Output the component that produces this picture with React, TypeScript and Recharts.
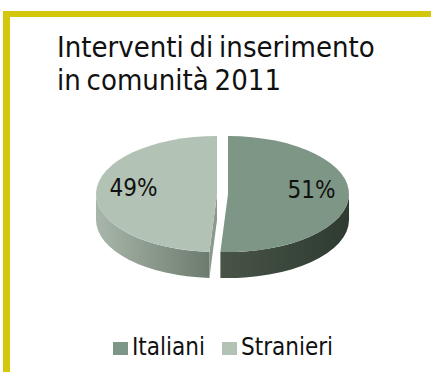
import React from "react";
import { PieChart, Pie, Legend } from "recharts";

// Share of placement interventions in 2011, by nationality
const categories = ["Italiani", "Stranieri"];
const shares = [51, 49];
const fills = ["#7e9685", "#b2c2b5"];
const wallFrom = ["#475446", "#a9b7aa"];
const wallTo = ["#2f3b31", "#6d7b6e"];
const cutFill = ["#5a6a5e", "#8b9a8d"];
const titleLines = ["Interventi di inserimento", "in comunità 2011"];

const rows = categories.map((name, i) => ({ name, value: shares[i], fill: fills[i], index: i }));

const FONT = "'DejaVu Sans Condensed', 'DejaVu Sans', sans-serif";
const TILT = 58 / 121;
const DEPTH = 26;
const EXPLODE = 5.5;

const toRad = (d: number) => (d * Math.PI) / 180;

// Tilted slice: an elliptical top face over a shaded wall and any visible cut face.
function TiltedSlice(props: any) {
  const { cx, cy, outerRadius, startAngle, endAngle, fill, index } = props;
  const a1 = 90 - startAngle;
  const a2 = 90 - endAngle;
  const mid = toRad((a1 + a2) / 2);
  const rx = outerRadius;
  const ry = outerRadius * TILT;
  const ox = cx + EXPLODE * Math.sin(mid);
  const oy = cy;
  const pt = (a: number, d = 0) => [ox + rx * Math.sin(toRad(a)), oy - ry * Math.cos(toRad(a)) + d];
  const arc = (from: number, to: number, d = 0) => {
    const [x, y] = pt(to, d);
    const large = Math.abs(to - from) > 180 ? 1 : 0;
    const sweep = to > from ? 1 : 0;
    return `A ${rx} ${ry} 0 ${large} ${sweep} ${x} ${y}`;
  };
  const p1 = pt(a1);
  const top = `M ${ox} ${oy} L ${p1[0]} ${p1[1]} ${arc(a1, a2)} Z`;

  const w1 = Math.max(a1, 90);
  const w2 = Math.min(a2, 270);
  const ws = pt(w1);
  const we = pt(w2, DEPTH);
  const wall = `M ${ws[0]} ${ws[1]} ${arc(w1, w2)} L ${we[0]} ${we[1]} ${arc(w2, w1, DEPTH)} Z`;

  const cutAngle = a1 > 180 && a1 < 360 ? a1 : a2 > 0 && a2 < 180 ? a2 : null;
  let cut = null;
  if (cutAngle !== null) {
    const r0 = pt(cutAngle);
    cut = `M ${ox} ${oy} L ${r0[0]} ${r0[1]} L ${r0[0]} ${r0[1] + DEPTH} L ${ox} ${oy + DEPTH} Z`;
  }
  return (
    <g>
      {cut && <path d={cut} fill={cutFill[index]} />}
      <path d={wall} fill={`url(#wall-${index})`} />
      <path d={top} fill={fill} />
    </g>
  );
}

function sliceLabel(props: any) {
  const { cx, cy, outerRadius, midAngle, value } = props;
  const a = toRad(midAngle);
  const x = cx + (EXPLODE + 0.69 * outerRadius) * Math.cos(a);
  const y = cy - 0.7 * outerRadius * TILT * Math.sin(a) - 5;
  return (
    <text x={x} y={y} textAnchor="middle" dominantBaseline="central" fontFamily={FONT} fontSize={24} fill="#111111">
      {`${value}%`}
    </text>
  );
}

function LegendRow({ payload }: any) {
  return (
    <div style={{ display: "flex", alignItems: "center", fontFamily: FONT, fontSize: 24, color: "#111111", lineHeight: "28px" }}>
      {(payload || []).map((item: any, i: number) => (
        <span key={item.value} style={{ display: "flex", alignItems: "center", marginLeft: i ? 17 : 0 }}>
          <span style={{ width: 15, height: 13, background: item.color, marginRight: 4, marginTop: 3 }} />
          {item.value}
        </span>
      ))}
    </div>
  );
}

export default function App() {
  return (
    <div style={{ position: "absolute", left: 0, top: 0, width: 431, height: 372, background: "#ffffff", overflow: "hidden" }}>
      <div style={{ position: "absolute", left: 3, top: 11, width: 428, height: 6, background: "#d4c80c" }} />
      <div style={{ position: "absolute", left: 3, top: 11, width: 7, height: 361, background: "#d4c80c" }} />
      <div style={{ position: "absolute", left: 57, top: 31, fontFamily: FONT, fontSize: 29, lineHeight: "32.5px", wordSpacing: "-2.5px", color: "#111111", whiteSpace: "nowrap" }}>
        {titleLines.map((line) => (
          <div key={line}>{line}</div>
        ))}
      </div>
      <PieChart width={431} height={372} margin={{ top: 0, right: 0, bottom: 0, left: 0 }} style={{ position: "absolute", left: 0, top: 0 }}>
        <defs>
          {categories.map((c, i) => (
            <linearGradient key={c} id={`wall-${i}`} x1="0" y1="0" x2="1" y2="0">
              <stop offset="0%" stopColor={wallFrom[i]} />
              <stop offset="100%" stopColor={wallTo[i]} />
            </linearGradient>
          ))}
        </defs>
        <Pie
          data={rows}
          dataKey="value"
          nameKey="name"
          cx={222.5}
          cy={194}
          outerRadius={121}
          startAngle={90}
          endAngle={-270}
          stroke="none"
          shape={TiltedSlice}
          label={sliceLabel}
          labelLine={false}
          isAnimationActive={false}
        />
        <Legend content={<LegendRow />} wrapperStyle={{ position: "absolute", left: 113, top: 333, width: 280, height: 28 }} />
      </PieChart>
    </div>
  );
}
